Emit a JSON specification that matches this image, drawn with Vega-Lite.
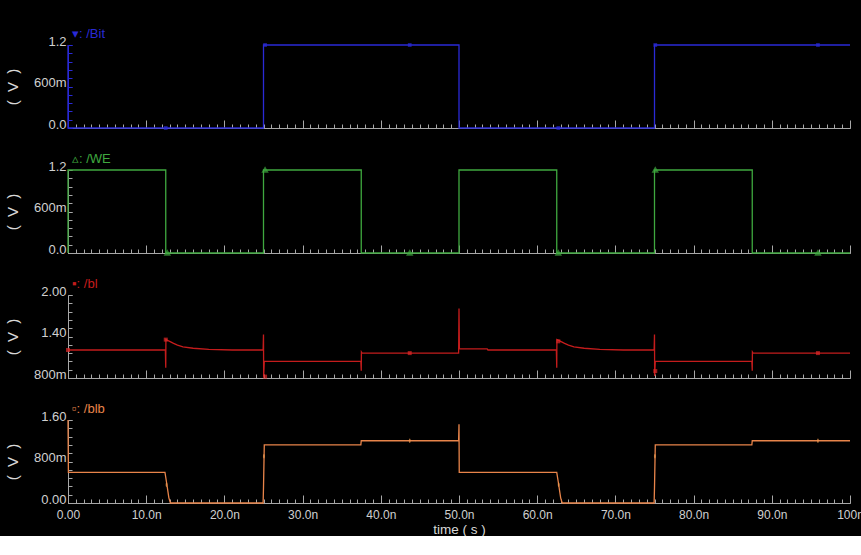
{
  "$schema": "https://vega.github.io/schema/vega-lite/v6.json",
  "background": "#000000",
  "padding": {"left": 5, "top": 28, "right": 0, "bottom": 0},
  "bounds": "flush",
  "spacing": 42,
  "datasets": {
    "bitLine": [
      {"i": 0, "t": 0, "v": 1.2}, {"i": 1, "t": 0, "v": 0}, {"i": 2, "t": 25, "v": 0}, {"i": 3, "t": 25, "v": 1.2},
      {"i": 4, "t": 50, "v": 1.2}, {"i": 5, "t": 50, "v": 0}, {"i": 6, "t": 75, "v": 0}, {"i": 7, "t": 75, "v": 1.2},
      {"i": 8, "t": 100, "v": 1.2}
    ],
    "bitMarks": [
      {"t": 12.5, "v": 0}, {"t": 25.2, "v": 1.2}, {"t": 43.7, "v": 1.2}, {"t": 62.7, "v": 0}, {"t": 75.1, "v": 1.2}, {"t": 95.9, "v": 1.2}
    ],
    "weLine": [
      {"i": 0, "t": 0, "v": 0}, {"i": 1, "t": 0, "v": 1.2}, {"i": 2, "t": 12.5, "v": 1.2}, {"i": 3, "t": 12.5, "v": 0},
      {"i": 4, "t": 25, "v": 0}, {"i": 5, "t": 25, "v": 1.2}, {"i": 6, "t": 37.5, "v": 1.2}, {"i": 7, "t": 37.5, "v": 0},
      {"i": 8, "t": 50, "v": 0}, {"i": 9, "t": 50, "v": 1.2}, {"i": 10, "t": 62.5, "v": 1.2}, {"i": 11, "t": 62.5, "v": 0},
      {"i": 12, "t": 75, "v": 0}, {"i": 13, "t": 75, "v": 1.2}, {"i": 14, "t": 87.5, "v": 1.2}, {"i": 15, "t": 87.5, "v": 0},
      {"i": 16, "t": 100, "v": 0}
    ],
    "weMarks": [
      {"t": 12.7, "v": 0}, {"t": 25.2, "v": 1.2}, {"t": 43.7, "v": 0}, {"t": 62.7, "v": 0}, {"t": 75.1, "v": 1.2}, {"t": 95.9, "v": 0}
    ],
    "blLine": [
      {"i": 0, "t": 0, "v": 1.205}, {"i": 1, "t": 12.45, "v": 1.205}, {"i": 2, "t": 12.5, "v": 0.95}, {"i": 3, "t": 12.52, "v": 1.355},
      {"i": 4, "t": 13, "v": 1.33}, {"i": 5, "t": 13.5, "v": 1.3}, {"i": 6, "t": 14, "v": 1.275}, {"i": 7, "t": 14.7, "v": 1.25},
      {"i": 8, "t": 16, "v": 1.23}, {"i": 9, "t": 18, "v": 1.215}, {"i": 10, "t": 21, "v": 1.205}, {"i": 11, "t": 24.95, "v": 1.205},
      {"i": 12, "t": 25, "v": 1.43}, {"i": 13, "t": 25.02, "v": 0.82}, {"i": 14, "t": 25.1, "v": 1.04}, {"i": 15, "t": 37.45, "v": 1.04},
      {"i": 16, "t": 37.5, "v": 0.905}, {"i": 17, "t": 37.52, "v": 1.175}, {"i": 18, "t": 37.6, "v": 1.16}, {"i": 19, "t": 49.95, "v": 1.16},
      {"i": 20, "t": 50, "v": 1.805}, {"i": 21, "t": 50.05, "v": 1.22}, {"i": 22, "t": 53.6, "v": 1.22}, {"i": 23, "t": 53.7, "v": 1.205},
      {"i": 24, "t": 62.45, "v": 1.205}, {"i": 25, "t": 62.5, "v": 0.95}, {"i": 26, "t": 62.52, "v": 1.355}, {"i": 27, "t": 63, "v": 1.33},
      {"i": 28, "t": 63.5, "v": 1.3}, {"i": 29, "t": 64, "v": 1.275}, {"i": 30, "t": 64.7, "v": 1.25}, {"i": 31, "t": 66, "v": 1.23},
      {"i": 32, "t": 68, "v": 1.215}, {"i": 33, "t": 71, "v": 1.205}, {"i": 34, "t": 74.95, "v": 1.205}, {"i": 35, "t": 75, "v": 1.43},
      {"i": 36, "t": 75.02, "v": 0.83}, {"i": 37, "t": 75.1, "v": 1.04}, {"i": 38, "t": 87.45, "v": 1.04}, {"i": 39, "t": 87.5, "v": 0.905},
      {"i": 40, "t": 87.52, "v": 1.175}, {"i": 41, "t": 87.6, "v": 1.16}, {"i": 42, "t": 100, "v": 1.16}
    ],
    "blMarks": [
      {"t": 0, "v": 1.205}, {"t": 12.5, "v": 1.355}, {"t": 25.2, "v": 0.82}, {"t": 43.7, "v": 1.16}, {"t": 62.7, "v": 1.33}, {"t": 75.1, "v": 0.9}, {"t": 95.9, "v": 1.16}
    ],
    "blbLine": [
      {"i": 0, "t": 0, "v": 1.6}, {"i": 1, "t": 0.05, "v": 0.59}, {"i": 2, "t": 12.4, "v": 0.59}, {"i": 3, "t": 12.6, "v": 0.4},
      {"i": 4, "t": 12.9, "v": 0.1}, {"i": 5, "t": 13.1, "v": 0}, {"i": 6, "t": 24.95, "v": 0}, {"i": 7, "t": 25, "v": 0.3},
      {"i": 8, "t": 25.1, "v": 1.12}, {"i": 9, "t": 37.45, "v": 1.12}, {"i": 10, "t": 37.5, "v": 1.2}, {"i": 11, "t": 49.95, "v": 1.2},
      {"i": 12, "t": 50, "v": 1.52}, {"i": 13, "t": 50.03, "v": 0.59}, {"i": 14, "t": 62.5, "v": 0.59}, {"i": 15, "t": 62.7, "v": 0.4},
      {"i": 16, "t": 63, "v": 0.1}, {"i": 17, "t": 63.2, "v": 0}, {"i": 18, "t": 74.95, "v": 0}, {"i": 19, "t": 75, "v": 0.3},
      {"i": 20, "t": 75.1, "v": 1.12}, {"i": 21, "t": 87.45, "v": 1.12}, {"i": 22, "t": 87.5, "v": 1.2}, {"i": 23, "t": 100, "v": 1.2}
    ],
    "blbMarks": [
      {"t": 12.6, "v": 0.35}, {"t": 25.05, "v": 0.9}, {"t": 43.7, "v": 1.2}, {"t": 62.75, "v": 0.35}, {"t": 75.05, "v": 0.9}, {"t": 95.9, "v": 1.2}
    ]
  },
  "vconcat": [
    {
      "width": 782, "height": 83,
      "title": {"text": "▾: /Bit", "color": "#2a2ad6"},
      "resolve": {"scale": {"x": "independent", "y": "independent"}, "axis": {"x": "independent", "y": "independent"}},
      "layer": [
        {"data": {"name": "bitLine"}, "mark": {"type": "line", "color": "#2a2ad6", "strokeWidth": 1.3, "clip": false},
         "encoding": {
           "x": {"field": "t", "type": "quantitative", "scale": {"domain": [0, 100], "nice": false},
                 "axis": {"orient": "bottom", "values": [0,10,20,30,40,50,60,70,80,90,100], "labels": false, "title": null, "tickSize": -8}},
           "y": {"field": "v", "type": "quantitative", "scale": {"domain": [0, 1.2], "nice": false, "zero": false},
                 "axis": {"orient": "left", "values": [0, 0.6, 1.2], "labelExpr": "datum.value==0 ? '0.0' : datum.value==0.6 ? '600m' : '1.2'", "title": "( \u00a0V\u00a0 )", "domainColor": "#2a2ad6", "tickColor": "#2a2ad6"}},
           "order": {"field": "i", "type": "quantitative"}
         }},
        {"data": {"name": "bitMarks"}, "mark": {"type": "point", "shape": "square", "filled": true, "size": 14, "color": "#2a2ad6", "clip": false},
         "encoding": {
           "x": {"field": "t", "type": "quantitative", "scale": {"domain": [0, 100], "nice": false},
                 "axis": {"orient": "bottom", "values": [0,1,2,3,4,5,6,7,8,9,10,11,12,13,14,15,16,17,18,19,20,21,22,23,24,25,26,27,28,29,30,31,32,33,34,35,36,37,38,39,40,41,42,43,44,45,46,47,48,49,50,51,52,53,54,55,56,57,58,59,60,61,62,63,64,65,66,67,68,69,70,71,72,73,74,75,76,77,78,79,80,81,82,83,84,85,86,87,88,89,90,91,92,93,94,95,96,97,98,99,100], "labels": false, "domain": false, "title": null}},
           "y": {"field": "v", "type": "quantitative", "scale": {"domain": [0, 1.2], "nice": false, "zero": false},
                 "axis": {"orient": "left", "values": [0,0.12,0.24,0.36,0.48,0.6,0.72,0.84,0.96,1.08,1.2], "labels": false, "domain": false, "title": null, "tickColor": "#2a2ad6"}}
         }}
      ]
    },
    {
      "width": 782, "height": 83,
      "title": {"text": "▵: /WE", "color": "#3fa83f"},
      "resolve": {"scale": {"x": "independent", "y": "independent"}, "axis": {"x": "independent", "y": "independent"}},
      "layer": [
        {"data": {"name": "weLine"}, "mark": {"type": "line", "color": "#3fa83f", "strokeWidth": 1.3, "clip": false},
         "encoding": {
           "x": {"field": "t", "type": "quantitative", "scale": {"domain": [0, 100], "nice": false},
                 "axis": {"orient": "bottom", "values": [0,10,20,30,40,50,60,70,80,90,100], "labels": false, "title": null, "tickSize": -8}},
           "y": {"field": "v", "type": "quantitative", "scale": {"domain": [0, 1.2], "nice": false, "zero": false},
                 "axis": {"orient": "left", "values": [0, 0.6, 1.2], "labelExpr": "datum.value==0 ? '0.0' : datum.value==0.6 ? '600m' : '1.2'", "title": "( \u00a0V\u00a0 )"}},
           "order": {"field": "i", "type": "quantitative"}
         }},
        {"data": {"name": "weMarks"}, "mark": {"type": "point", "shape": "triangle-up", "filled": false, "size": 16, "color": "#3fa83f", "clip": false},
         "encoding": {
           "x": {"field": "t", "type": "quantitative", "scale": {"domain": [0, 100], "nice": false},
                 "axis": {"orient": "bottom", "values": [0,1,2,3,4,5,6,7,8,9,10,11,12,13,14,15,16,17,18,19,20,21,22,23,24,25,26,27,28,29,30,31,32,33,34,35,36,37,38,39,40,41,42,43,44,45,46,47,48,49,50,51,52,53,54,55,56,57,58,59,60,61,62,63,64,65,66,67,68,69,70,71,72,73,74,75,76,77,78,79,80,81,82,83,84,85,86,87,88,89,90,91,92,93,94,95,96,97,98,99,100], "labels": false, "domain": false, "title": null}},
           "y": {"field": "v", "type": "quantitative", "scale": {"domain": [0, 1.2], "nice": false, "zero": false},
                 "axis": {"orient": "left", "values": [0,0.12,0.24,0.36,0.48,0.6,0.72,0.84,0.96,1.08,1.2], "labels": false, "domain": false, "title": null}}
         }}
      ]
    },
    {
      "width": 782, "height": 83,
      "title": {"text": "▪: /bl", "color": "#c41c1c"},
      "resolve": {"scale": {"x": "independent", "y": "independent"}, "axis": {"x": "independent", "y": "independent"}},
      "layer": [
        {"data": {"name": "blLine"}, "mark": {"type": "line", "color": "#c41c1c", "strokeWidth": 1.3, "clip": false},
         "encoding": {
           "x": {"field": "t", "type": "quantitative", "scale": {"domain": [0, 100], "nice": false},
                 "axis": {"orient": "bottom", "values": [0,10,20,30,40,50,60,70,80,90,100], "labels": false, "title": null, "tickSize": -8}},
           "y": {"field": "v", "type": "quantitative", "scale": {"domain": [0.8, 2.0], "nice": false, "zero": false},
                 "axis": {"orient": "left", "values": [0.8, 1.4, 2.0], "labelExpr": "datum.value < 1 ? '800m' : datum.value < 1.5 ? '1.40' : '2.00'", "title": "( \u00a0V\u00a0 )"}},
           "order": {"field": "i", "type": "quantitative"}
         }},
        {"data": {"name": "blMarks"}, "mark": {"type": "point", "shape": "square", "filled": true, "size": 16, "color": "#e02828", "clip": false},
         "encoding": {
           "x": {"field": "t", "type": "quantitative", "scale": {"domain": [0, 100], "nice": false},
                 "axis": {"orient": "bottom", "values": [0,1,2,3,4,5,6,7,8,9,10,11,12,13,14,15,16,17,18,19,20,21,22,23,24,25,26,27,28,29,30,31,32,33,34,35,36,37,38,39,40,41,42,43,44,45,46,47,48,49,50,51,52,53,54,55,56,57,58,59,60,61,62,63,64,65,66,67,68,69,70,71,72,73,74,75,76,77,78,79,80,81,82,83,84,85,86,87,88,89,90,91,92,93,94,95,96,97,98,99,100], "labels": false, "domain": false, "title": null}},
           "y": {"field": "v", "type": "quantitative", "scale": {"domain": [0.8, 2.0], "nice": false, "zero": false},
                 "axis": {"orient": "left", "values": [0.8,0.92,1.04,1.16,1.28,1.4,1.52,1.64,1.76,1.88,2.0], "labels": false, "domain": false, "title": null}}
         }}
      ]
    },
    {
      "width": 782, "height": 83,
      "title": {"text": "▫: /blb", "color": "#e8844a"},
      "resolve": {"scale": {"x": "independent", "y": "independent"}, "axis": {"x": "independent", "y": "independent"}},
      "layer": [
        {"data": {"name": "blbLine"}, "mark": {"type": "line", "color": "#e8844a", "strokeWidth": 1.3, "clip": false},
         "encoding": {
           "x": {"field": "t", "type": "quantitative", "scale": {"domain": [0, 100], "nice": false},
                 "axis": {"orient": "bottom", "values": [0,10,20,30,40,50,60,70,80,90,100], "tickSize": -8,
                          "labelExpr": "datum.value == 0 ? '0.00' : datum.value == 100 ? '100n' : format(datum.value, '.1f') + 'n'",
                          "title": "time ( s )"}},
           "y": {"field": "v", "type": "quantitative", "scale": {"domain": [0, 1.6], "nice": false, "zero": false},
                 "axis": {"orient": "left", "values": [0, 0.8, 1.6], "labelExpr": "datum.value==0 ? '0.00' : datum.value < 1 ? '800m' : '1.60'", "title": "( \u00a0V\u00a0 )"}},
           "order": {"field": "i", "type": "quantitative"}
         }},
        {"data": {"name": "blbMarks"}, "mark": {"type": "point", "shape": "M0,-1C0.55,-1,0.55,1,0,1C-0.55,1,-0.55,-1,0,-1Z", "filled": true, "size": 20, "color": "#f09a50", "clip": false},
         "encoding": {
           "x": {"field": "t", "type": "quantitative", "scale": {"domain": [0, 100], "nice": false},
                 "axis": {"orient": "bottom", "values": [0,1,2,3,4,5,6,7,8,9,10,11,12,13,14,15,16,17,18,19,20,21,22,23,24,25,26,27,28,29,30,31,32,33,34,35,36,37,38,39,40,41,42,43,44,45,46,47,48,49,50,51,52,53,54,55,56,57,58,59,60,61,62,63,64,65,66,67,68,69,70,71,72,73,74,75,76,77,78,79,80,81,82,83,84,85,86,87,88,89,90,91,92,93,94,95,96,97,98,99,100], "labels": false, "domain": false, "title": null}},
           "y": {"field": "v", "type": "quantitative", "scale": {"domain": [0, 1.6], "nice": false, "zero": false},
                 "axis": {"orient": "left", "values": [0,0.16,0.32,0.48,0.64,0.8,0.96,1.12,1.28,1.44,1.6], "labels": false, "domain": false, "title": null}}
         }}
      ]
    }
  ],
  "config": {
    "view": {"stroke": null},
    "title": {"anchor": "start", "frame": "group", "font": "Liberation Sans", "fontSize": 13, "fontWeight": "normal", "offset": -6, "dx": 4},
    "axis": {
      "grid": false,
      "domainColor": "#a8a8a8",
      "tickColor": "#a8a8a8",
      "labelColor": "#d0d0d0",
      "titleColor": "#d8d8d8",
      "labelFont": "Liberation Sans",
      "titleFont": "Liberation Sans",
      "titleFontWeight": "normal",
      "tickSize": -4,
      "domainWidth": 1,
      "tickWidth": 1,
      "labelOverlap": false
    },
    "axisX": {"labelPadding": 14, "titlePadding": 2, "labelFlush": false, "labelFontSize": 12, "titleFontSize": 13.5},
    "axisY": {"labelPadding": 6, "labelOffset": -4, "titlePadding": 13, "labelFontSize": 13, "titleFontSize": 15}
  }
}
